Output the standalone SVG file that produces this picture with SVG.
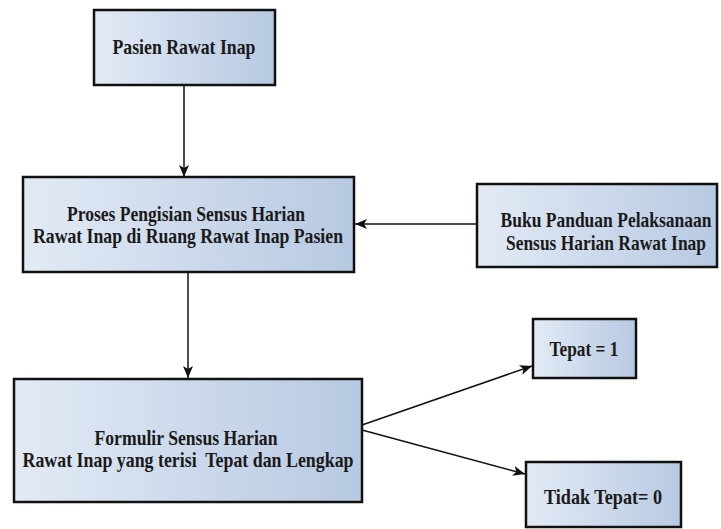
<svg xmlns="http://www.w3.org/2000/svg" width="721" height="529" viewBox="0 0 721 529">
<defs>
<linearGradient id="g" x1="0" y1="0" x2="1" y2="0">
<stop offset="0" stop-color="#e3eaf5"/>
<stop offset="1" stop-color="#b7c9e2"/>
</linearGradient>
<marker id="ah" viewBox="0 0 12 10" refX="12" refY="5" markerWidth="12" markerHeight="10" markerUnits="userSpaceOnUse" orient="auto">
<path d="M0,0 L12,5 L0,10 L3,5 Z" fill="#111"/>
</marker>
</defs>
<style>
.box{fill:url(#g);stroke:#111;stroke-width:2.5}
.t{font-weight:bold;font-size:21px;fill:#1a1a1a;text-anchor:middle}
.c{stroke:#111;stroke-width:1.5;fill:none;marker-end:url(#ah)}
</style>
<rect width="721" height="529" fill="#fff"/>
<g id="connectors">
<line class="c" x1="184" y1="85" x2="184" y2="177"/>
<line class="c" x1="477" y1="224" x2="355" y2="224"/>
<line class="c" x1="188" y1="272" x2="188" y2="378"/>
<line class="c" x1="362" y1="425" x2="532" y2="366"/>
<line class="c" x1="362" y1="430" x2="525" y2="474"/>
</g>
<g font-family="Liberation Serif, Times New Roman, serif">
<g id="n1">
<rect class="box" x="94" y="10" width="181" height="75"/>
<text class="t" x="184" y="54" textLength="143" lengthAdjust="spacingAndGlyphs">Pasien Rawat Inap</text>
</g>
<g id="n2">
<rect class="box" x="23" y="177" width="331" height="95"/>
<text class="t" x="186" y="221" textLength="238" lengthAdjust="spacingAndGlyphs">Proses Pengisian Sensus Harian</text>
<text class="t" x="188" y="243" textLength="310" lengthAdjust="spacingAndGlyphs">Rawat Inap di Ruang Rawat Inap Pasien</text>
</g>
<g id="n3">
<rect class="box" x="477" y="184" width="240" height="83"/>
<text class="t" x="606" y="227" textLength="211" lengthAdjust="spacingAndGlyphs" font-size="19">Buku Panduan Pelaksanaan</text>
<text class="t" x="606" y="250" textLength="200" lengthAdjust="spacingAndGlyphs" font-size="19">Sensus Harian Rawat Inap</text>
</g>
<g id="n4">
<rect class="box" x="14" y="379" width="348" height="123"/>
<text class="t" x="186" y="445" textLength="183" lengthAdjust="spacingAndGlyphs">Formulir Sensus Harian</text>
<text class="t" x="188" y="467" textLength="331" lengthAdjust="spacingAndGlyphs" xml:space="preserve">Rawat Inap yang terisi  Tepat dan Lengkap</text>
</g>
<g id="n5">
<rect class="box" x="533" y="319" width="103" height="59"/>
<text class="t" x="584" y="356" textLength="69" lengthAdjust="spacingAndGlyphs">Tepat = 1</text>
</g>
<g id="n6">
<rect class="box" x="526" y="462" width="155" height="65"/>
<text class="t" x="603" y="504" textLength="118" lengthAdjust="spacingAndGlyphs">Tidak Tepat= 0</text>
</g>
</g>
</svg>
